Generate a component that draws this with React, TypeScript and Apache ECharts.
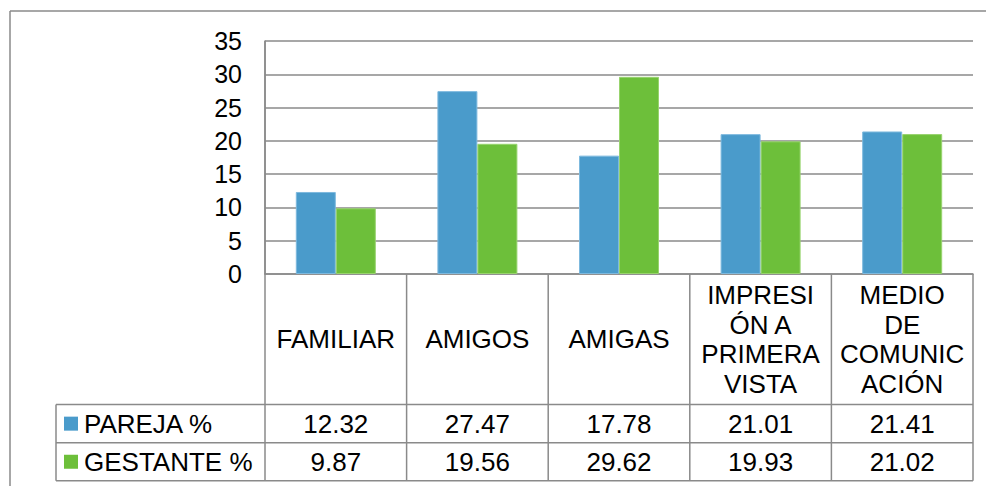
import React, { useEffect, useRef } from "react";
import * as echarts from "echarts";

// Category headers (line breaks as printed in the table header cells)
const categories = ["FAMILIAR", "AMIGOS", "AMIGAS", "IMPRESIÓN A PRIMERA VISTA", "MEDIO DE COMUNICACIÓN"];
const categoryHeaders = ["FAMILIAR", "AMIGOS", "AMIGAS", "IMPRESI\nÓN A\nPRIMERA\nVISTA", "MEDIO\nDE\nCOMUNIC\nACIÓN"];

const seriesNames = ["PAREJA %", "GESTANTE %"];
const pareja = [12.32, 27.47, 17.78, 21.01, 21.41];
const gestante = [9.87, 19.56, 29.62, 19.93, 21.02];

const yTicks = { min: 0, max: 35, interval: 5 };

const COLORS = ["#4A9BCB", "#6DBF3A"];
const BORDERS = ["#7DB9DE", "#98D36E"];
const LINE = "#8A8A8A";
const FONT_SIZE = 26;
const FONT_FAMILY = "'Liberation Sans', Arial, sans-serif";
const FONT = `${FONT_SIZE}px ${FONT_FAMILY}`;

export default function App() {
  const ref = useRef<HTMLDivElement>(null);

  useEffect(() => {
    if (!ref.current) return;
    const chart = echarts.init(ref.current, null, { renderer: "svg" });

    chart.setOption({
      animation: false,
      backgroundColor: "#ffffff",
      grid: { left: 265, right: 13, top: 41, bottom: 212, containLabel: false },
      xAxis: {
        type: "category",
        data: categories,
        axisLine: { show: true, lineStyle: { color: LINE, width: 1.5 } },
        axisTick: { show: false },
        axisLabel: { show: false },
      },
      yAxis: {
        type: "value",
        min: yTicks.min,
        max: yTicks.max,
        interval: yTicks.interval,
        axisLine: { show: true, lineStyle: { color: LINE, width: 1.5 } },
        axisTick: { show: false },
        axisLabel: {
          margin: 23,
          color: "#000",
          fontSize: 25,
          fontFamily: FONT_FAMILY,
        },
        splitLine: { show: true, lineStyle: { color: LINE, width: 1.5 } },
      },
      series: [pareja, gestante].map((d, i) => ({
        name: seriesNames[i],
        type: "bar",
        data: d,
        barWidth: 40,
        barGap: "0%",
        itemStyle: { color: COLORS[i], borderColor: BORDERS[i], borderWidth: 1 },
      })),
    });

    // Data table under the plot, aligned with the category axis
    const x0 = chart.convertToPixel({ xAxisIndex: 0 }, 0) as number;
    const x1 = chart.convertToPixel({ xAxisIndex: 0 }, 1) as number;
    const half = (x1 - x0) / 2;
    const yZero = chart.convertToPixel({ yAxisIndex: 0 }, 0) as number;
    const yTop = chart.convertToPixel({ yAxisIndex: 0 }, yTicks.max) as number;
    const leftEdge = x0 - half;
    const rightEdge = x0 + half * 2 * (categories.length - 1) + half;
    const headerBottom = yZero + 130.5;
    const rowBottoms = [headerBottom + 38.3, headerBottom + 76.2];
    const tableLeft = 56;

    const lineEl = (xa: number, ya: number, xb: number, yb: number) => ({
      type: "line",
      shape: { x1: xa, y1: ya, x2: xb, y2: yb },
      style: { stroke: LINE, lineWidth: 1.5 },
      silent: true,
    });

    const els: any[] = [];
    // outer chart-area frame
    els.push(lineEl(10, 11, 986, 11));
    els.push(lineEl(10, 11, 10, 486));
    // vertical lines
    els.push(lineEl(leftEdge, yTop, leftEdge, rowBottoms[1]));
    for (let i = 1; i <= categories.length; i++) {
      const x = leftEdge + half * 2 * i;
      els.push(lineEl(x, yZero, x, rowBottoms[1]));
    }
    els.push(lineEl(tableLeft, headerBottom, tableLeft, rowBottoms[1]));
    // horizontal lines
    els.push(lineEl(tableLeft, headerBottom, rightEdge, headerBottom));
    rowBottoms.forEach((y) => els.push(lineEl(tableLeft, y, rightEdge, y)));

    // header texts
    categoryHeaders.forEach((t, i) => {
      els.push({
        type: "text",
        x: chart.convertToPixel({ xAxisIndex: 0 }, i) as number,
        y: (yZero + headerBottom) / 2,
        silent: true,
        style: {
          text: t,
          font: FONT,
          fill: "#000",
          align: "center",
          verticalAlign: "middle",
          lineHeight: 29.5,
        },
      });
    });

    // rows: legend key + values
    const rowTops = [headerBottom, rowBottoms[0]];
    [pareja, gestante].forEach((vals, r) => {
      const cy = (rowTops[r] + rowBottoms[r]) / 2;
      els.push({
        type: "rect",
        shape: { x: 64, y: cy - 7, width: 14, height: 14 },
        style: { fill: COLORS[r] },
        silent: true,
      });
      els.push({
        type: "text",
        x: 84,
        y: cy,
        silent: true,
        style: { text: seriesNames[r], font: FONT, fill: "#000", align: "left", verticalAlign: "middle" },
      });
      vals.forEach((v, i) => {
        els.push({
          type: "text",
          x: chart.convertToPixel({ xAxisIndex: 0 }, i) as number,
          y: cy,
          silent: true,
          style: { text: v.toFixed(2), font: FONT, fill: "#000", align: "center", verticalAlign: "middle" },
        });
      });
    });

    chart.setOption({ graphic: { elements: els } });

    return () => chart.dispose();
  }, []);

  return (
    <div
      ref={ref}
      style={{ position: "absolute", left: 0, top: 0, width: 986, height: 486, background: "#fff" }}
    />
  );
}
